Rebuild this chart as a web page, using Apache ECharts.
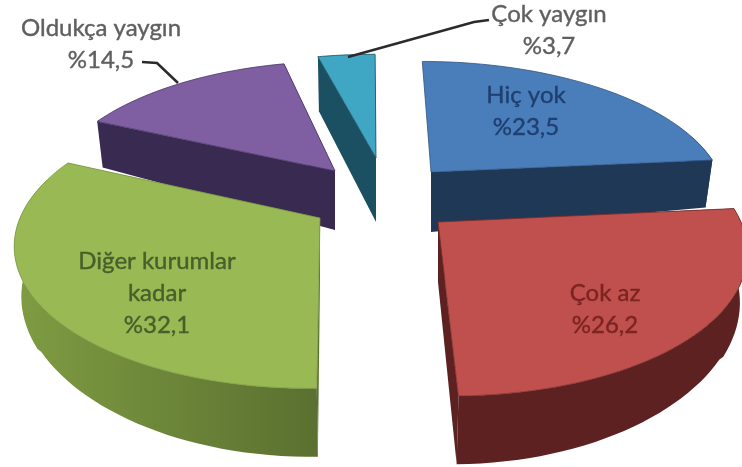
<!DOCTYPE html>
<html>
<head>
<meta charset="utf-8">
<title>Pie</title>
<script src="https://cdn.jsdelivr.net/npm/echarts@6/dist/echarts.min.js"></script>
<style>
    html, body {margin: 0; padding: 0; background: #fff;}
    #main {width: 742px; height: 467px;}
</style>
</head>
<body>
<div id="main"></div>
<script>
// veriler, saat yönünde tepeden başlar
var categories = ['Hiç yok', 'Çok az', 'Diğer kurumlar\nkadar', 'Oldukça yaygın', 'Çok yaygın'];
var values = [23.5, 26.2, 32.1, 14.5, 3.7];

// görünüm: dilim başına tepe noktası, yarıçap, renk, etiket
var apexX = [61, 68, -50, -35, 6];
var apexY = [172, 222, 218, 171, 158];
var radiusX = [288, 303, 300, 282, 289];
var radiusY = [129, 145, 142, 128, 121];
var heights = [60, 60, 60, 59, 64];
var topColors = ['#4a7ebb', '#bf504d', '#98b954', '#7f5ea1', '#3fa6c3'];
var sideColors = ['#1f3856', '#5c2120', '#7f9c42', '#382a50', '#1b4f62'];
var sideDarkColors = ['#1f3856', '#5c2120', '#5a7030', '#382a50', '#1b4f62'];
var edgeColors = ['#2f5480', '#7a2c2a', '#7c9a45', '#4a3768', '#1b4f62'];
var textColors = ['#1f3f70', '#7b2422', '#46602a', '#5f5f5f', '#5f5f5f'];
var labelX = [526, 605, 157, 101, 549];
var labelY = [111, 309, 293, 44, 30];
var layers = [1, 2, 2, 1, 1];
var showFirstCut = [false, true, true, true, true];
var leaderLines = [
    [[142, 62], [157, 63], [178, 83]],
    [[348, 57], [474, 22], [489, 20]]
];

var VANISH_X = 370;
var PERSPECTIVE = 6;
var BOTTOM_SCALE = 0.98;

function project(i, deg) {
    var a = deg * Math.PI / 180;
    var u = Math.sin(a), v = -Math.cos(a);
    var s = PERSPECTIVE / (PERSPECTIVE - v);
    return [VANISH_X + (apexX[i] + radiusX[i] * u) * s, apexY[i] + v * radiusY[i] * s];
}

function lower(i, deg, p) {
    var a = deg * Math.PI / 180;
    var u = Math.sin(a), v = -Math.cos(a);
    var s = PERSPECTIVE / (PERSPECTIVE - v);
    var depth = heights[i] * s * (1 - 0.2 * u * u) * (v > 0.5 ? 0.95 : 1);
    return [VANISH_X + (p[0] - VANISH_X) * BOTTOM_SCALE, p[1] + depth];
}

var total = values.reduce(function (a, b) {return a + b;}, 0);

function renderSlice(params, api) {
    var i = params.dataIndex;
    var from = 0;
    for (var k = 0; k < i; k++) from += values[k];
    from = from / total * 360;
    var to = from + api.value(1) / total * 360;

    var apex = [VANISH_X + apexX[i], apexY[i]];
    var apexLow = [apex[0], apex[1] + heights[i]];
    var n = Math.ceil((to - from) / 2);
    var arc = [], rimTop = [], rimLow = [];
    for (var j = 0; j <= n; j++) {
        var deg = from + (to - from) * j / n;
        var p = project(i, deg);
        arc.push(p);
        // arka kenar görünmez
        if (-Math.cos(deg * Math.PI / 180) > -0.3) {
            rimTop.push(p);
            rimLow.unshift(lower(i, deg, p));
        }
    }
    var first = arc[0], last = arc[arc.length - 1];
    var z = layers[i];

    var rimFill = new echarts.graphic.LinearGradient(0, 0, 1, 0, [
        {offset: 0, color: sideColors[i]},
        {offset: 1, color: sideDarkColors[i]}
    ]);

    var children = [
        {
            type: 'polygon', z2: z,
            shape: {points: [apex, last, lower(i, to, last), apexLow]},
            style: {fill: sideDarkColors[i]}
        }
    ];
    if (showFirstCut[i]) {
        children.push({
            type: 'polygon', z2: z,
            shape: {points: [apex, first, lower(i, from, first), apexLow]},
            style: {fill: sideDarkColors[i]}
        });
    }
    if (rimTop.length > 1) {
        children.push({
            type: 'polygon', z2: z,
            shape: {points: rimTop.concat(rimLow)},
            style: {fill: rimFill}
        });
    }
    children.push({
        type: 'polygon', z2: z,
        shape: {points: [apex].concat(arc)},
        style: {fill: topColors[i], stroke: edgeColors[i], lineWidth: 0.8}
    });
    children.push({
        type: 'text', z2: 10,
        style: {
            text: api.value(0) + '\n%' + String(api.value(1)).replace('.', ','),
            x: labelX[i], y: labelY[i],
            align: 'center', verticalAlign: 'middle',
            fontFamily: 'Lato', fontSize: 24, lineHeight: 32,
            fill: textColors[i],
            stroke: textColors[i], lineWidth: 0.4
        }
    });
    return {type: 'group', children: children};
}

var myChart = echarts.init(document.getElementById('main'));
myChart.setOption({
    animation: false,
    backgroundColor: '#fff',
    series: [{
        type: 'custom',
        coordinateSystem: 'none',
        renderItem: renderSlice,
        encode: {itemName: 0, value: 1},
        data: categories.map(function (c, i) {return [c, values[i]];}),
        silent: true
    }],
    graphic: leaderLines.map(function (pts) {
        return {
            type: 'polyline',
            z: 20,
            shape: {points: pts},
            style: {stroke: '#2b2b2b', lineWidth: 2.5, fill: null}
        };
    })
});
</script>
</body>
</html>
